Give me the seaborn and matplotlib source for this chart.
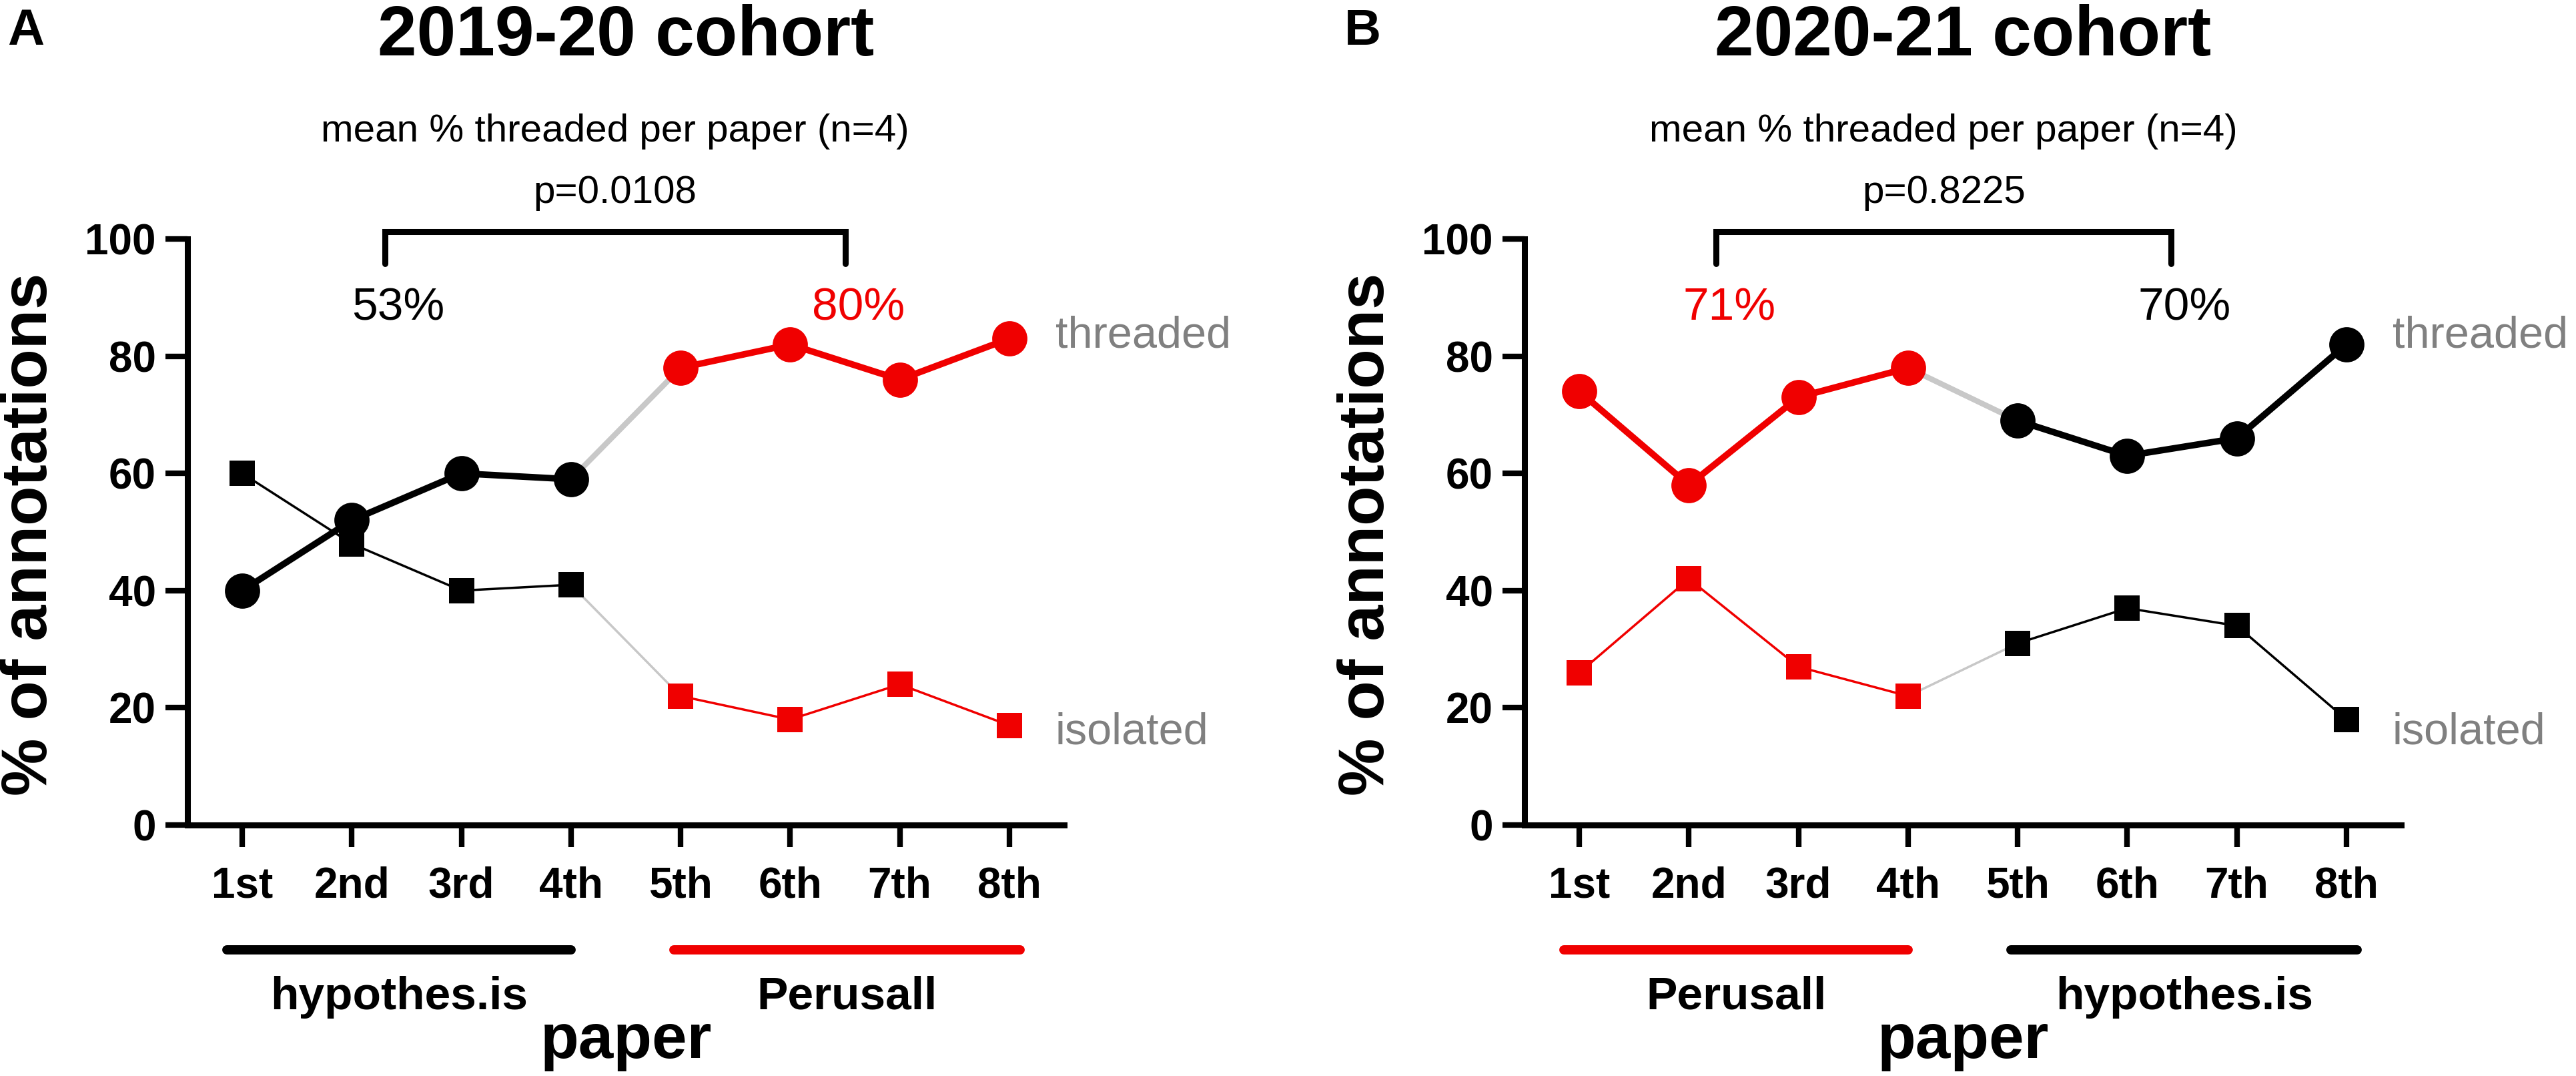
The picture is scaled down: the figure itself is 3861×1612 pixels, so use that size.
import numpy as np
import pandas as pd
import matplotlib
matplotlib.use('Agg')
import matplotlib.pyplot as plt
import matplotlib.transforms as mtransforms
import seaborn as sns

# values
papers = ['1st', '2nd', '3rd', '4th', '5th', '6th', '7th', '8th']

threaded_1920 = [40, 52, 60, 59, 78, 82, 76, 83]
isolated_1920 = [60, 48, 40, 41, 22, 18, 24, 17]
platform_1920 = ['hypothes.is'] * 4 + ['Perusall'] * 4
means_1920 = ['53%', '80%']
pval_1920 = 'p=0.0108'

threaded_2021 = [74, 58, 73, 78, 69, 63, 66, 82]
isolated_2021 = [26, 42, 27, 22, 31, 37, 34, 18]
platform_2021 = ['Perusall'] * 4 + ['hypothes.is'] * 4
means_2021 = ['71%', '70%']
pval_2021 = 'p=0.8225'

RED = '#f00000'
LINK = '#c8c8c8'
LABEL_GREY = '#808080'
COLORS = {'hypothes.is': 'black', 'Perusall': RED}

sns.set_style('ticks')
plt.rcParams['font.family'] = ['Liberation Sans', 'DejaVu Sans']
plt.rcParams.update({
    'axes.linewidth': 6.5,
    'axes.edgecolor': 'black',
    'text.color': 'black',
    'axes.labelcolor': 'black',
    'xtick.color': 'black',
    'ytick.color': 'black',
})

fig = plt.figure(figsize=(38.62, 16.12), dpi=100)
W, H = 3862, 1612
AX_BOTTOM, AX_TOP = 1236, 358


def draw_panel(left_px, threaded, isolated, platforms, means, pval, title, letter, bracket):
    ax = fig.add_axes([left_px / W, 1 - AX_BOTTOM / H, 1314 / W, (AX_BOTTOM - AX_TOP) / H])
    df = pd.DataFrame({'pos': np.arange(len(papers)), 'threaded': threaded,
                       'isolated': isolated, 'platform': platforms})

    # light grey link where the platform switches
    link = df.iloc[3:5]
    sns.lineplot(data=link, x='pos', y='threaded', color=LINK, lw=6, ax=ax, zorder=1, legend=False)
    sns.lineplot(data=link, x='pos', y='isolated', color=LINK, lw=2.5, ax=ax, zorder=1, legend=False)

    for plat, grp in df.groupby('platform', sort=False):
        c = COLORS[plat]
        sns.lineplot(data=grp, x='pos', y='threaded', color=c, lw=7, marker='o',
                     markersize=38, markeredgewidth=0, ax=ax, zorder=4, legend=False)
        sns.lineplot(data=grp, x='pos', y='isolated', color=c, lw=2.5, marker='s',
                     markersize=27, markeredgewidth=0, ax=ax, zorder=3, legend=False)

    ax.set_xlim(-0.5, 7.5)
    ax.set_ylim(0, 100)
    ax.set_xticks(range(len(papers)), papers)
    ax.set_yticks([0, 20, 40, 60, 80, 100])
    ax.tick_params(axis='both', length=24, width=6, labelsize=46, direction='out')
    ax.tick_params(axis='x', pad=20)
    ax.tick_params(axis='y', pad=10)
    for lab in ax.get_xticklabels() + ax.get_yticklabels():
        lab.set_fontweight('bold')
    ax.set_xlabel('')
    ax.set_ylabel('')
    sns.despine(ax=ax)

    blend = mtransforms.blended_transform_factory(ax.transAxes, ax.transData)

    # bracket and stats text above the plot
    x0, x1 = bracket
    ax.plot([x0, x0, x1, x1], [95.8, 101.3, 101.3, 95.8], color='black', lw=6.5,
            clip_on=False, solid_joinstyle='miter')
    xc = (x0 + x1) / 2
    ax.text(xc, 106.2, pval, ha='center', va='baseline', fontsize=42)
    ax.text(xc, 116.6, 'mean % threaded per paper (n=4)', ha='center', va='baseline', fontsize=42)
    ax.text(0.5, 131.3, title, transform=blend, ha='center', va='baseline',
            fontsize=76, fontweight='bold')
    block_colors = [COLORS[platforms[0]], COLORS[platforms[4]]]
    for xm, txt, c in zip([x0 + 0.12, x1 + 0.12], means, block_colors):
        ax.text(xm, 86.2, txt, ha='center', va='baseline', fontsize=50, color=c)

    # series labels at the right
    ax.text(7.42, 81.5, 'threaded', ha='left', va='baseline', fontsize=48, color=LABEL_GREY)
    ax.text(7.42, 13.8, 'isolated', ha='left', va='baseline', fontsize=48, color=LABEL_GREY)

    # platform bars under the x axis
    for (b0, b1), plat in zip([(-0.14, 3.0), (3.94, 7.1)], [platforms[0], platforms[4]]):
        ax.plot([b0, b1], [-21.3, -21.3], color=COLORS[plat], lw=10, solid_capstyle='round',
                clip_on=False)
        ax.text((b0 + b1) / 2, -31.4, plat, ha='center', va='baseline', fontsize=50,
                fontweight='bold')
    ax.text(3.5, -39.8, 'paper', ha='center', va='baseline', fontsize=68, fontweight='bold')

    fig.text((left_px - 236) / W, 1 - 800 / H, '% of annotations', rotation=90,
             ha='center', va='center', fontsize=70, fontweight='bold')
    fig.text((left_px - 270) / W, 1 - 67 / H, letter, ha='left', va='baseline',
             fontsize=55, fontweight='bold')
    return ax


draw_panel(281, threaded_1920, isolated_1920, platform_1920, means_1920, pval_1920,
           '2019-20 cohort', 'A', (1.3, 5.5))
draw_panel(2285, threaded_2021, isolated_2021, platform_2021, means_2021, pval_2021,
           '2020-21 cohort', 'B', (1.25, 5.4))

fig.savefig('out.png', dpi=100, facecolor='white')
